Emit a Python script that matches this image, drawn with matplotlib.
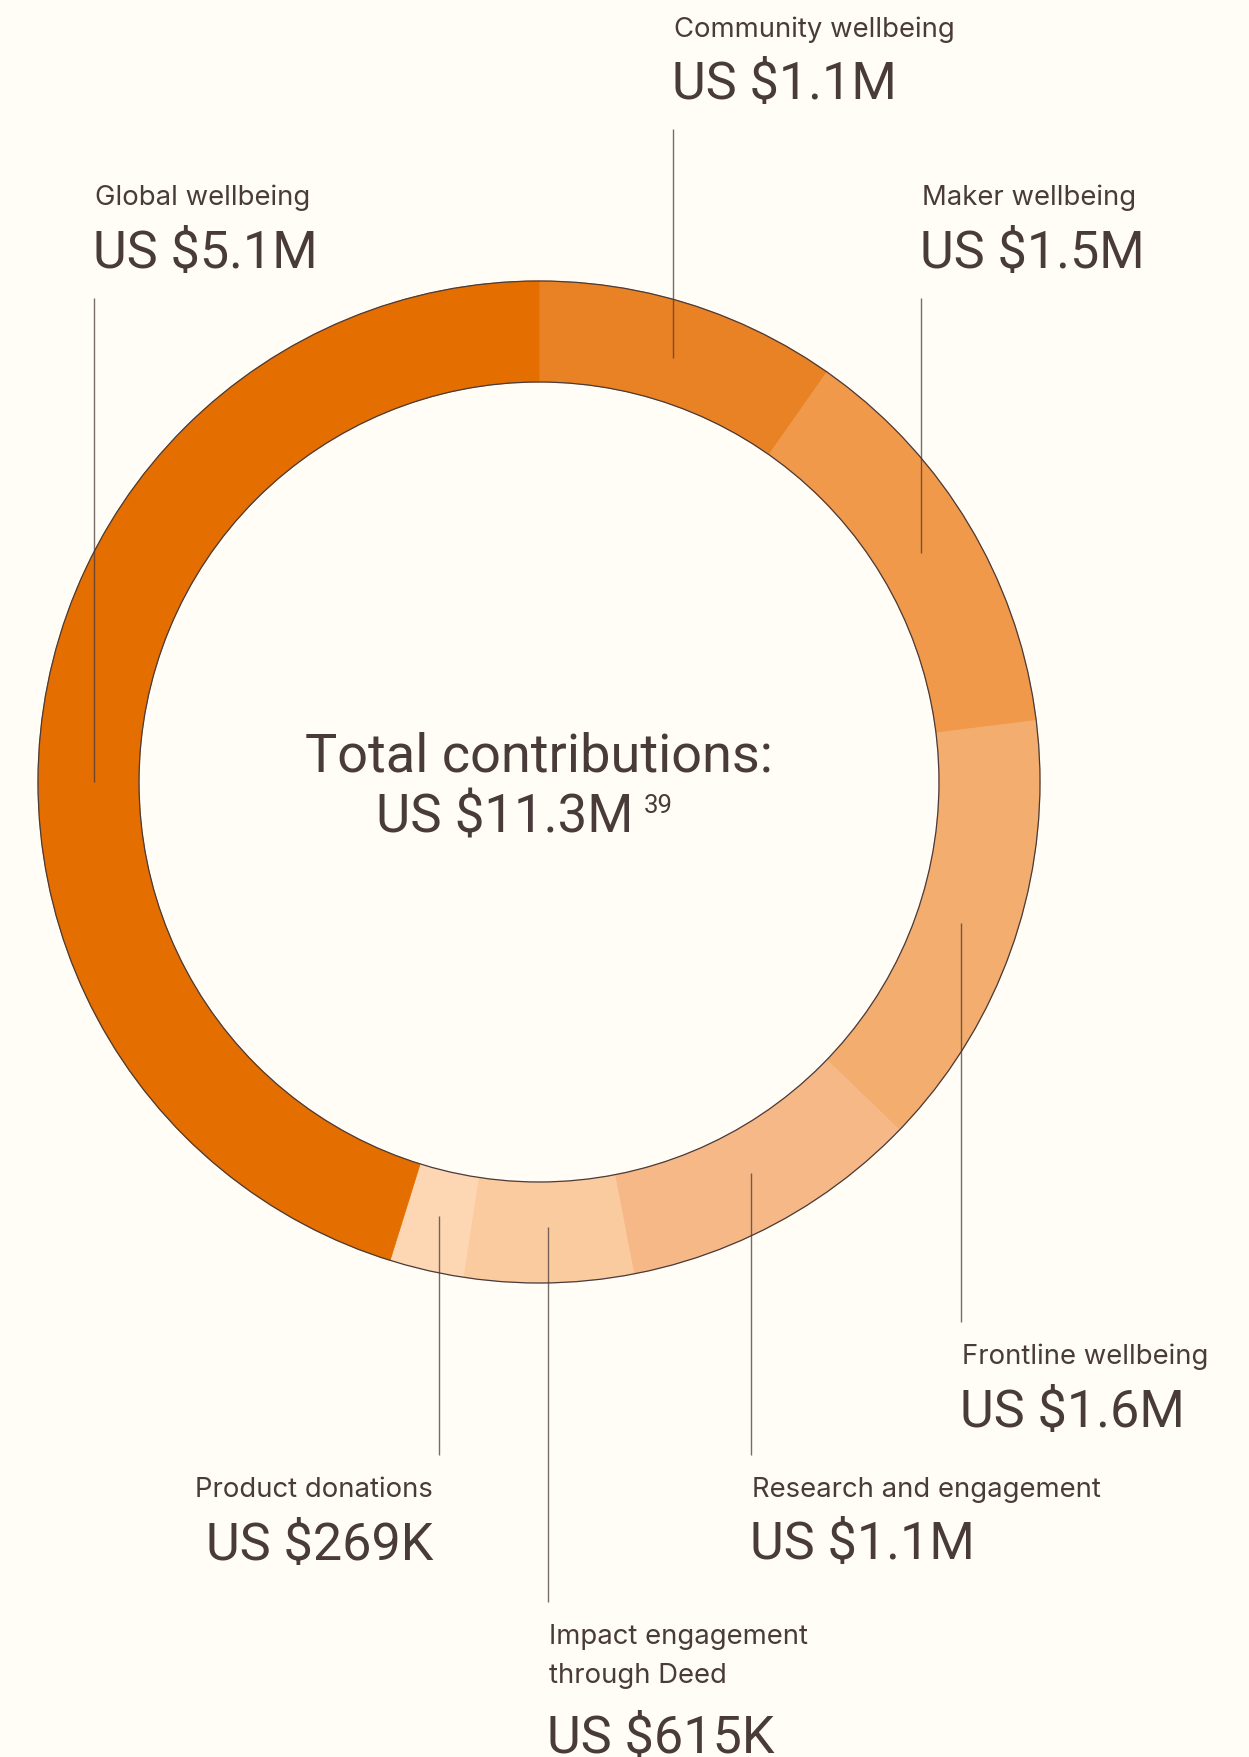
import numpy as np
import matplotlib
matplotlib.use('Agg')
import matplotlib.pyplot as plt
from matplotlib.patches import Circle

plt.rcParams['font.family'] = ['Inter', 'DejaVu Sans']
BIG = ['Roboto', 'DejaVu Sans']

# data (clockwise from 12 o'clock)
categories = ['Community wellbeing', 'Maker wellbeing', 'Frontline wellbeing',
              'Research and engagement', 'Impact engagement\nthrough Deed',
              'Product donations', 'Global wellbeing']
values = [1.1, 1.5, 1.6, 1.1, 0.615, 0.269, 5.1]  # US $M
value_labels = ['US $1.1M', 'US $1.5M', 'US $1.6M', 'US $1.1M',
                'US $615K', 'US $269K', 'US $5.1M']
colors = ['#E98224', '#F0994A', '#F3AD6E', '#F6B886', '#FBCBA0', '#FDD6B4', '#E46E00']
total_label = 'Total contributions:'
footnote = '39'

# layout, pixels, y measured from the top
W, H = 1249, 1757
cx, cy = 539, 782
r_out, r_in = 501, 400
label_base = [37, 205, 1364, 1497, 1644, 1497, 205]
value_base = [99, 268, 1427, 1559, 1753, 1560, 268]
side = ['up', 'up', 'down', 'down', 'down', 'down', 'up']
halign = ['left'] * 5 + ['right', 'left']
anchor_override = {6: 270.0}

bg = '#FFFDF5'
ink = '#4A3B3B'

fig = plt.figure(figsize=(W / 100, H / 100), dpi=100, facecolor=bg)
ax = fig.add_axes([0, 0, 1, 1])
ax.set_facecolor(bg)


def Y(y):
  return H - y


wedges, _ = ax.pie(values, colors=colors, radius=r_out, center=(cx, Y(cy)),
                   startangle=90, counterclock=False,
                   wedgeprops=dict(width=r_out - r_in, linewidth=0.6))
for w in wedges:
  w.set_edgecolor(w.get_facecolor())

for r in (r_out, r_in):
  ax.add_patch(Circle((cx, Y(cy)), r, fill=False, ec=ink, lw=0.9, zorder=3))

# leader lines + labels
frac = np.cumsum([0] + values) / np.sum(values)
r_mid = 445
for i, (cat, vl) in enumerate(zip(categories, value_labels)):
  ang = anchor_override.get(i, 360 * (frac[i] + frac[i + 1]) / 2)
  ax_x = cx + r_mid * np.sin(np.radians(ang))
  ax_y = cy - r_mid * np.cos(np.radians(ang))
  if side[i] == 'up':
    end = value_base[i] + 30
  else:
    end = label_base[i] - 20 - 22
  ax.plot([ax_x, ax_x], [Y(ax_y), Y(end)], color=ink, lw=1.0, alpha=0.75,
          solid_capstyle='butt', zorder=4)
  tx = ax_x + 1 if halign[i] == 'left' else ax_x - 6
  lines = cat.split('\n')
  for j, ln in enumerate(lines):
    ax.text(tx, Y(label_base[i] + 39 * j), ln, fontsize=19.8, color=ink,
            ha=halign[i], va='baseline')
  ax.text(tx - 2 if halign[i] == 'left' else tx, Y(value_base[i]), vl,
          fontsize=37.5, color=ink, family=BIG, ha=halign[i], va='baseline')

# centre text
ax.text(cx, Y(771), total_label, fontsize=39, color=ink, family=BIG,
        ha='center', va='baseline')
ax.text(633, Y(833), f'US ${np.sum(values):.1f}M', fontsize=38, color=ink,
        family=BIG, ha='right', va='baseline')
ax.text(644, Y(813), footnote, fontsize=18.5, color=ink, family=BIG,
        ha='left', va='baseline')

ax.set_xlim(0, W)
ax.set_ylim(0, H)
ax.set_aspect('equal')
ax.axis('off')

fig.savefig('out.png', dpi=100, facecolor=bg)
